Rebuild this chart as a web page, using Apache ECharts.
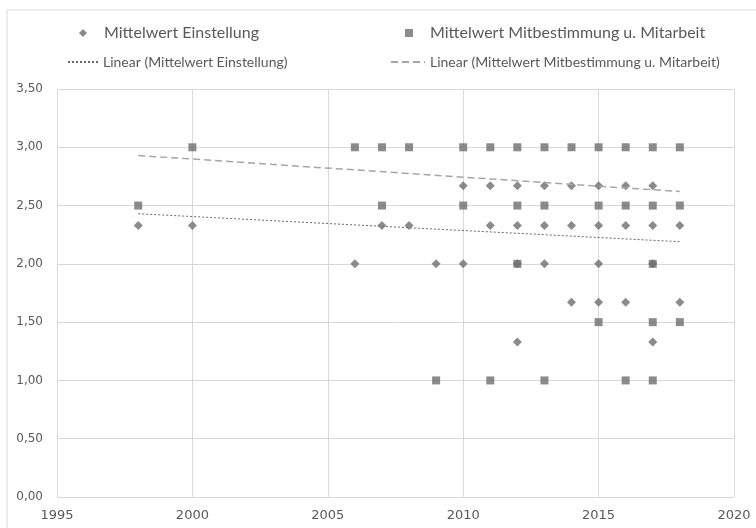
<!DOCTYPE html>
<html><head><meta charset="utf-8">
<script src="https://cdn.jsdelivr.net/npm/echarts@6/dist/echarts.min.js"></script>
<style>html,body{margin:0;padding:0;background:#fff}#c{width:756px;height:528px}</style>
</head><body><div id="c"></div>
<script>
// Series names
const nameE = 'Mittelwert Einstellung';
const nameM = 'Mittelwert Mitbestimmung u. Mitarbeit';
const nameLE = 'Linear (Mittelwert Einstellung)';
const nameLM = 'Linear (Mittelwert Mitbestimmung u. Mitarbeit)';

// Mittelwert Einstellung: [year, value]
const einstellung = [
  [1998, 2.33], [2000, 2.33], [2006, 2.00], [2007, 2.33], [2008, 2.33], [2009, 2.00],
  [2010, 2.67], [2010, 2.00],
  [2011, 2.67], [2011, 2.33],
  [2012, 2.67], [2012, 2.33], [2012, 2.00], [2012, 1.33],
  [2013, 2.67], [2013, 2.33], [2013, 2.00],
  [2014, 2.67], [2014, 2.33], [2014, 1.67],
  [2015, 2.67], [2015, 2.33], [2015, 2.00], [2015, 1.67],
  [2016, 2.67], [2016, 2.33], [2016, 1.67],
  [2017, 2.67], [2017, 2.33], [2017, 2.00], [2017, 1.33],
  [2018, 2.33], [2018, 1.67]
];

// Mittelwert Mitbestimmung u. Mitarbeit: [year, value]
const mitbestimmung = [
  [1998, 2.5], [2000, 3.0], [2006, 3.0], [2007, 3.0], [2007, 2.5], [2008, 3.0], [2009, 1.0],
  [2010, 3.0], [2010, 2.5],
  [2011, 3.0], [2011, 1.0],
  [2012, 3.0], [2012, 2.5], [2012, 2.0],
  [2013, 3.0], [2013, 2.5], [2013, 1.0],
  [2014, 3.0],
  [2015, 3.0], [2015, 2.5], [2015, 1.5],
  [2016, 3.0], [2016, 2.5], [2016, 1.0],
  [2017, 3.0], [2017, 2.5], [2017, 2.0], [2017, 1.5], [2017, 1.0],
  [2018, 3.0], [2018, 2.5], [2018, 1.5]
];

// Trend line end points
const trendE = [[1998, 2.43], [2018, 2.19]];
const trendM = [[1998, 2.93], [2018, 2.62]];

// Axis ticks
const xMin = 1995, xMax = 2020, xStep = 5;
const yMin = 0, yMax = 3.5, yStep = 0.5;

const txt = '#595959';
const grid = '#d9d9d9';
const mark = '#6e6e6e';

const chart = echarts.init(document.getElementById('c'), null, {renderer: 'canvas'});
const row1Text = {color: txt, fontFamily: 'Lato', fontSize: 16, padding: [0, 0, 0, 12], lineHeight: 18};
const row2Text = {color: txt, fontFamily: 'Lato', fontSize: 14, padding: [0, 0, 0, 0], lineHeight: 16};
const hiddenSymbol = {color: 'rgba(0,0,0,0)', borderWidth: 0, opacity: 0};
chart.setOption({
  animation: false,
  backgroundColor: '#fff',
  graphic: [{
    type: 'rect', shape: {x: 7, y: 10, width: 760, height: 530},
    style: {fill: 'none', stroke: '#d9d9d9', lineWidth: 1}, silent: true, z: -10
  }],
  grid: {left: 57, right: 22, top: 89, bottom: 31},
  legend: [
    {data: [nameE], left: 79, top: 24, itemWidth: 8, itemHeight: 8, textStyle: row1Text, padding: 0},
    {data: [nameM], left: 405, top: 24, itemWidth: 8, itemHeight: 8, textStyle: row1Text, padding: 0},
    {data: [nameLE], left: 67, top: 54, itemWidth: 30, itemHeight: 12, textStyle: row2Text, padding: 0,
      itemStyle: hiddenSymbol},
    {data: [nameLM], left: 390, top: 54, itemWidth: 34, itemHeight: 12, textStyle: row2Text, padding: 0,
      itemStyle: hiddenSymbol}
  ],
  xAxis: {
    type: 'value', min: xMin, max: xMax, interval: xStep,
    axisLine: {show: false}, axisTick: {show: false},
    splitLine: {show: true, lineStyle: {color: grid, width: 1}},
    axisLabel: {color: txt, fontFamily: 'DejaVu Sans', fontSize: 13, margin: 12,
      formatter: v => String(v)}
  },
  yAxis: {
    type: 'value', min: yMin, max: yMax, interval: yStep,
    axisLine: {show: false}, axisTick: {show: false},
    splitLine: {show: true, lineStyle: {color: grid, width: 1}},
    axisLabel: {color: txt, fontFamily: 'DejaVu Sans', fontSize: 12, margin: 14,
      formatter: v => v.toFixed(2).replace('.', ',')}
  },
  series: [
    {name: nameE, type: 'scatter', symbol: 'diamond', symbolSize: 9, data: einstellung,
      itemStyle: {color: mark}, z: 3},
    {name: nameM, type: 'scatter', symbol: 'rect', symbolSize: 8, data: mitbestimmung,
      itemStyle: {color: mark}, z: 4},
    {name: nameLE, type: 'line', data: trendE, symbol: 'none', showSymbol: false,
      lineStyle: {color: '#6a6a6a', width: 1, type: [2, 2]}, itemStyle: {color: '#6a6a6a'}, z: 5},
    {name: nameLM, type: 'line', data: trendM, symbol: 'none', showSymbol: false,
      lineStyle: {color: '#a6a6a6', width: 1.5, type: [7, 4]}, itemStyle: {color: '#a6a6a6'}, z: 5}
  ]
});
</script></body></html>
